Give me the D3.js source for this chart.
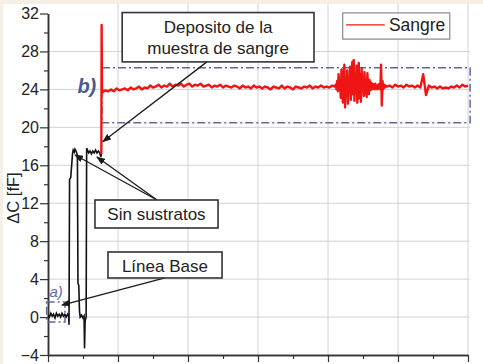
<!DOCTYPE html>
<html>
<head>
<meta charset="utf-8">
<script src="https://cdn.jsdelivr.net/npm/d3@7"></script>
<style>
  body { margin: 0; background: #fff; }
</style>
</head>
<body>
<div id="my_chart"></div>
<script>
// black trace: baseline, two "sin sustratos" steps
var blackT = [0, 0.2, 0.4, 0.6, 0.8, 1.0, 1.2, 1.4, 1.6, 1.8, 2.0, 2.2, 2.4, 2.6, 2.8, 2.95,
    3.0, 3.08, 3.25, 3.4, 3.5, 3.6, 3.75, 3.85, 4.0, 4.15, 4.2, 4.28, 4.4, 4.5, 4.6, 4.8, 5.0, 5.15,
    5.22, 5.3, 5.45, 5.52, 5.65, 5.8, 6.0, 6.2, 6.4, 6.6, 6.8, 7.0, 7.2, 7.4, 7.55, 7.62];
var blackV = [0.2, 0.0, 0.4, 0.1, 0.3, -0.1, 0.4, 0.1, 0.3, 0.0, 0.4, 0.1, 0.3, 0.0, 0.3, 0.1,
    -0.8, 14.5, 14.7, 16.2, 17.2, 17.6, 17.4, 17.7, 17.5, 17.2, 17.0, 3.6, 3.3, 0.6, 0.0, 0.2, -0.1, 0.1,
    -3.3, -0.4, 0.0, 17.8, 17.6, 17.3, 17.5, 17.2, 17.5, 17.3, 17.6, 17.3, 17.5, 17.3, 16.9, 17.2];

// red trace (Sangre): deposit spike, then three sampled runs
var spikeT = [7.62, 7.66, 7.72];
var spikeV = [17.2, 30.8, 23.6];
var runSpans = [[7.8, 41.0], [41.0, 48.2], [48.4, 60.0]];
var sangreA = [23.7, 23.9, 23.8, 24.0, 23.8, 24.1, 23.9, 24.0, 24.1, 23.9,
    24.2, 24.0, 24.1, 24.3, 24.0, 24.2, 24.1, 24.4, 24.2, 24.3,
    24.5, 24.2, 24.4, 24.3, 24.6, 24.3, 24.5, 24.4, 24.6, 24.3,
    24.5, 24.6, 24.3, 24.5, 24.4, 24.6, 24.3, 24.4, 24.5, 24.2,
    24.4, 24.3, 24.5, 24.2, 24.4, 24.3, 24.2, 24.4, 24.3, 24.1,
    24.4, 24.2, 24.3, 24.1, 24.4, 24.2, 24.3, 24.1, 24.3, 24.2,
    24.0, 24.3, 24.2, 24.1, 24.4, 24.1, 24.3, 24.2, 24.0, 24.3,
    24.2, 24.1, 24.3, 24.2, 24.4, 24.1, 24.3, 24.2, 24.4, 24.2,
    24.3, 24.2, 24.4, 24.3];
var sangreB = [24.3, 24.5, 24.0, 24.9, 23.8, 25.6, 23.9, 24.8, 23.1, 26.1,
    24.2, 22.6, 25.3, 26.6, 22.1, 24.9, 23.4, 26.0, 22.5, 25.2,
    23.8, 26.4, 22.9, 24.6, 26.9, 23.5, 27.1, 22.8, 25.4, 23.9, 26.5,
    22.6, 24.8, 26.8, 23.1, 25.6, 22.7, 26.2, 23.9, 25.1, 23.3, 25.8,
    23.6, 24.9, 23.2, 25.7, 24.1, 23.5, 25.0, 23.9, 24.7, 24.0,
    24.6, 24.1, 24.5, 24.0, 24.6, 24.1, 24.4, 24.0, 24.5, 24.1,
    24.6, 24.0, 26.6, 22.3, 24.9, 24.0, 24.5, 24.2, 24.4];
var sangreC = [24.3, 24.4, 24.2, 24.5, 24.3, 24.4, 24.2, 24.5, 24.3, 24.4, 24.2, 24.4, 24.2, 25.6,
    23.4, 24.4, 24.2, 24.3, 24.1, 24.3, 24.1, 24.2, 24.1, 24.3, 24.2, 24.4, 24.2, 24.5, 24.3, 24.4];

var yMajor = [-4, 0, 4, 8, 12, 16, 20, 24, 28, 32];
var yMinor = [-2, 2, 6, 10, 14, 18, 22, 26, 30];
var xMajor = [0, 10, 20, 30, 40, 50, 60];
var xMinor = [5, 15, 25, 35, 45, 55];

function draw_chart() {

    var width = 483;
    var height = 364;
    var axisColor = "#333";
    var gridColor = "#d2d2d2";
    var boxColor = "#5b6a98";

    var svg = d3.select("#my_chart").append("svg")
        .attr("width", width)
        .attr("height", height)
        .style("font-family", "'Liberation Sans', Arial, sans-serif");

    // page frame
    svg.append("rect").attr("width", width).attr("height", height).attr("fill", "#f4f0e5");
    svg.append("rect").attr("x", 3).attr("y", 4).attr("width", width - 3).attr("height", height - 4).attr("fill", "white");

    var x = d3.scaleLinear().domain([0, 60]).range([48, 468]);
    var y = d3.scaleLinear().domain([-4, 32]).range([355, 13.5]);

    // grid
    svg.append("g").selectAll("line")
        .data(xMajor.slice(1))
        .enter().append("line")
            .attr("x1", function(d) { return x(d); })
            .attr("x2", function(d) { return x(d); })
            .attr("y1", y(-4))
            .attr("y2", 4)
            .attr("stroke", gridColor);
    svg.append("g").selectAll("line")
        .data(yMajor.slice(1, -1))
        .enter().append("line")
            .attr("x1", x(0))
            .attr("x2", x(60) + 2)
            .attr("y1", function(d) { return y(d); })
            .attr("y2", function(d) { return y(d); })
            .attr("stroke", gridColor);

    // axes
    var gx = svg.append("g").attr("transform", "translate(0," + y(-4) + ")");
    gx.call(d3.axisBottom(x).tickValues(xMajor).tickFormat("").tickSize(7).tickSizeOuter(0));
    gx.append("g").call(d3.axisBottom(x).tickValues(xMinor).tickFormat("").tickSize(4).tickSizeOuter(0));

    var gy = svg.append("g").attr("transform", "translate(" + x(0) + ",0)");
    gy.call(d3.axisLeft(y).tickValues(yMajor).tickSize(8).tickPadding(1).tickSizeOuter(0));
    gy.append("g").call(d3.axisLeft(y).tickValues(yMinor).tickFormat("").tickSize(4).tickSizeOuter(0));

    svg.selectAll(".domain").attr("stroke", axisColor).attr("stroke-width", 1.5);
    svg.selectAll(".tick line").attr("stroke", axisColor).attr("stroke-width", 1.2);
    gy.selectAll("text").attr("font-size", "16px").attr("fill", "#222")
        .style("font-family", "'Liberation Sans', Arial, sans-serif");

    svg.append("text")
        .attr("transform", "translate(19,198) rotate(-90)")
        .attr("text-anchor", "middle")
        .attr("font-size", "16.5px")
        .attr("fill", "#222")
        .text("ΔC [fF]");

    // dash-dot region boxes
    var regions = [[-0.19, 2.43, -0.53, 1.59], [7.71, 60.3, 20.47, 26.27]];
    svg.append("g").selectAll("rect")
        .data(regions)
        .enter().append("rect")
            .attr("x", function(d) { return x(d[0]); })
            .attr("y", function(d) { return y(d[3]); })
            .attr("width", function(d) { return x(d[1]) - x(d[0]); })
            .attr("height", function(d) { return y(d[2]) - y(d[3]); })
            .attr("fill", "none")
            .attr("stroke", boxColor)
            .attr("stroke-width", 1.5)
            .attr("stroke-dasharray", "8,3,2,3");

    svg.append("text").attr("x", x(4.2)).attr("y", y(23.6))
        .attr("font-size", "20px").attr("font-weight", "bold").attr("font-style", "italic")
        .attr("fill", "#4b5a94").text("b)");
    svg.append("text").attr("x", x(0.2)).attr("y", y(2.1))
        .attr("font-size", "15px").attr("font-style", "italic")
        .attr("fill", "#5c6cab").text("a)");

    // traces
    var line = d3.line()
        .x(function(d) { return x(d[0]); })
        .y(function(d) { return y(d[1]); });

    var black = blackT.map(function(t, i) { return [t, blackV[i]]; });
    svg.append("path")
        .datum(black)
        .attr("d", line)
        .attr("fill", "none")
        .attr("stroke", "#111")
        .attr("stroke-width", 1.6);

    var red = spikeT.map(function(t, i) { return [t, spikeV[i]]; });
    [sangreA, sangreB, sangreC].forEach(function(vals, r) {
        var s = runSpans[r];
        vals.forEach(function(v, i) {
            red.push([s[0] + i * (s[1] - s[0]) / (vals.length - 1), v]);
        });
    });
    svg.append("path")
        .datum(red)
        .attr("d", line)
        .attr("fill", "none")
        .attr("stroke", "#f01515")
        .attr("stroke-width", 2.4)
        .attr("stroke-linejoin", "round");

    // annotations
    svg.append("defs").append("marker")
        .attr("id", "arrow")
        .attr("markerUnits", "userSpaceOnUse")
        .attr("markerWidth", 9).attr("markerHeight", 7)
        .attr("refX", 8).attr("refY", 3.5)
        .attr("orient", "auto")
        .append("path").attr("d", "M0,0 L9,3.5 L0,7 Z").attr("fill", "#1a1a1a");

    var arrows = [
        [22.7, 26.9, 7.85, 18.5],
        [15.57, 12.34, 3.86, 17.08],
        [15.57, 12.34, 7.0, 16.87],
        [16.71, 4.12, 2.0, 1.27]
    ];
    svg.append("g").selectAll("line")
        .data(arrows)
        .enter().append("line")
            .attr("x1", function(d) { return x(d[0]); })
            .attr("y1", function(d) { return y(d[1]); })
            .attr("x2", function(d) { return x(d[2]); })
            .attr("y2", function(d) { return y(d[3]); })
            .attr("stroke", "#1a1a1a")
            .attr("stroke-width", 1.3)
            .attr("marker-end", "url(#arrow)");

    var notes = [
        { box: [10.6, 38.0, 26.9, 32.1], cx: 24.3, lines: [["Deposito de la", 29.9], ["muestra de sangre", 27.7]] },
        { box: [6.71, 24.29, 9.39, 12.34], cx: 15.5, lines: [["Sin sustratos", 10.24]] },
        { box: [8.57, 24.86, 4.12, 6.86], cx: 16.7, lines: [["Línea Base", 4.75]] }
    ];
    notes.forEach(function(n) {
        svg.append("rect")
            .attr("x", x(n.box[0]))
            .attr("y", y(n.box[3]))
            .attr("width", x(n.box[1]) - x(n.box[0]))
            .attr("height", y(n.box[2]) - y(n.box[3]))
            .attr("fill", "white")
            .attr("stroke", "#333")
            .attr("stroke-width", 1.6);
        n.lines.forEach(function(l) {
            svg.append("text")
                .attr("x", x(n.cx))
                .attr("y", y(l[1]))
                .attr("text-anchor", "middle")
                .attr("font-size", "17px")
                .attr("fill", "#222")
                .text(l[0]);
        });
    });

    // legend
    svg.append("rect")
        .attr("x", x(42.1)).attr("y", y(32.06))
        .attr("width", x(57.4) - x(42.1)).attr("height", y(29.3) - y(32.06))
        .attr("fill", "white").attr("stroke", "#888").attr("stroke-width", 1.2);
    svg.append("line")
        .attr("x1", x(42.6)).attr("x2", x(48.1))
        .attr("y1", y(30.8)).attr("y2", y(30.8))
        .attr("stroke", "#f01515").attr("stroke-width", 1.3);
    svg.append("text")
        .attr("x", x(48.7)).attr("y", y(30.15))
        .attr("font-size", "17.5px").attr("fill", "#222")
        .text("Sangre");
}

draw_chart()
</script>
</body>
</html>
